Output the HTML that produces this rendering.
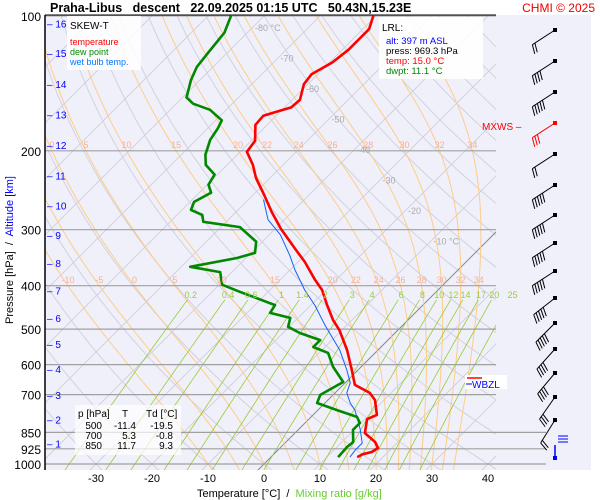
<!DOCTYPE html>
<html><head><meta charset="utf-8">
<style>
html,body{margin:0;padding:0;background:#fff;}
svg{display:block;font-family:"Liberation Sans",sans-serif;}
</style></head>
<body>
<svg id="chart" width="600" height="500" viewBox="0 0 600 500" xmlns="http://www.w3.org/2000/svg">
<defs><clipPath id="plotclip"><rect x="45" y="15" width="451" height="455"/></clipPath></defs>
<rect x="45" y="15" width="546" height="455" fill="#f0f0fb"/>
<g id="bg" clip-path="url(#plotclip)"></g>
<g id="plines"></g>
<g id="series"></g>
<g id="labels"></g>
<line x1="45" y1="15" x2="45" y2="470" stroke="#000" stroke-width="1.5"/>
<line x1="45" y1="15" x2="496" y2="15" stroke="#000" stroke-width="1"/>
<text x="50" y="12" font-size="12.5" font-weight="bold" fill="#000" xml:space="preserve">Praha-Libus   descent   22.09.2025 01:15 UTC   50.43N,15.23E</text>
<text x="595" y="12" font-size="12" fill="#e00" text-anchor="end">CHMI © 2025</text>
<g>
<rect x="67" y="16" width="74" height="54" fill="#fff" opacity="0.85"/>
<text x="70" y="29" font-size="10" fill="#000">SKEW-T</text>
<text x="70" y="45" font-size="9" fill="#f00">temperature</text>
<text x="70" y="55" font-size="9" fill="#080">dew point</text>
<text x="70" y="65" font-size="9" fill="#07f">wet bulb temp.</text>
</g>
<g>
<rect x="379" y="17" width="104" height="62" fill="#fff" opacity="0.9"/>
<text x="382" y="31" font-size="10" fill="#000">LRL:</text>
<text x="386" y="44" font-size="9.5" fill="#00f">alt: 397 m ASL</text>
<text x="386" y="54" font-size="9.5" fill="#000">press: 969.3 hPa</text>
<text x="386" y="64" font-size="9.5" fill="#f00">temp: 15.0 °C</text>
<text x="386" y="74" font-size="9.5" fill="#080">dwpt: 11.1 °C</text>
</g>
<g font-size="10" fill="#000">
<rect x="75" y="405" width="106" height="50" fill="#fff" opacity="0.7"/>
<text x="78" y="417">p [hPa]</text><text x="122" y="417">T</text><text x="146" y="417">Td [°C]</text>
<text x="102" y="429" text-anchor="end">500</text><text x="136" y="429" text-anchor="end">-11.4</text><text x="173" y="429" text-anchor="end">-19.5</text>
<text x="102" y="439" text-anchor="end">700</text><text x="136" y="439" text-anchor="end">5.3</text><text x="173" y="439" text-anchor="end">-0.8</text>
<text x="102" y="449" text-anchor="end">850</text><text x="136" y="449" text-anchor="end">11.7</text><text x="173" y="449" text-anchor="end">9.3</text>
</g>
<text x="197" y="497" font-size="11" xml:space="preserve"><tspan fill="#000">Temperature [°C]  /  </tspan><tspan fill="#6c3">Mixing ratio [g/kg]</tspan></text>
<text transform="translate(13,250) rotate(-90)" font-size="11" text-anchor="middle" xml:space="preserve"><tspan fill="#000">Pressure [hPa]  /  </tspan><tspan fill="#00f">Altitude [km]</tspan></text>
<g>
<rect x="465" y="375" width="42" height="14" fill="#fff"/>
<line x1="467" y1="378" x2="482" y2="378" stroke="#f00" stroke-width="1.5"/>
<line x1="466" y1="384" x2="472" y2="384" stroke="#00f"/>
<text x="472" y="388" font-size="10" fill="#00f">WBZL</text>
</g>
<text x="482" y="130" font-size="10" fill="#f00">MXWS –</text>
<g id="winds"></g>
</svg>
<script>
// ---- data ----
const tempP = [100,107,112,119,127,135,142,154,160,164,167,175,190,201,215,230,251,274,299,333,354,388,409,442,477,502,557,617,666,694,720,777,794,853,893,921,940,951,965];
const tempT = [-60.5,-58.9,-58.9,-58.9,-59.5,-61.1,-60.7,-58.6,-58.8,-60.9,-62.3,-62.1,-59.3,-58.8,-55.4,-52.5,-48.0,-43.6,-38.9,-32.5,-28.8,-23.8,-20.7,-17.1,-13.4,-10.5,-5.5,-1.1,2.1,6.2,8.4,11.4,10.4,12.5,15.9,17.5,17.1,15.9,15.4];
const dewP = [100,109,121,130,139,152,157,162,171,178,189,204,215,226,238,248,260,271,278,288,296,319,338,347,363,373,398,413,442,460,472,494,510,529,548,565,607,656,701,731,758,785,810,839,893,916,965];
const dewT = [-85.9,-84.1,-83.4,-82.9,-81.6,-79.3,-77.0,-72.9,-68.9,-68.2,-67.5,-65.7,-63.8,-60.5,-59.8,-57.9,-59.3,-58.4,-55.5,-54.1,-46.6,-41.1,-39.3,-41.6,-48.4,-42.1,-39.5,-35.0,-26.4,-25.9,-21.4,-20.2,-17.0,-12.1,-12.1,-8.4,-5.0,-0.5,-2.3,-1.4,3.4,8.2,9.8,9.8,12.0,11.8,12.0];
const wbP = [257,285,308,342,369,409,442,490,557,617,659,694,731,758,798,839,898,930,965];
const wbT = [-47.3,-42.9,-38.0,-32.7,-29.1,-23.8,-19.3,-13.9,-6.8,-2.0,0.9,2.1,4.5,6.6,8.9,11.1,13.8,13.8,14.1];
const pressureTicks = [100,200,300,400,500,600,700,850,925,1000];
const altKm = [1,2,3,4,5,6,7,8,9,10,11,12,13,14,15,16];
const altP = [900,796,701,614,540,472,410,356,308,265,227,194,166,142,121,104];
const tempTicks = [-30,-20,-10,0,10,20,30,40];
const isoLabels = [-80,-70,-60,-50,-40,-30,-20,-10];
const moistThetas = [-10,-5,0,5,10,15,20,22,24,26,28,30,32,34];
const mixRatios = [0.2,0.4,0.6,1,1.4,2,3,4,6,8,10,12,14,17,20,25];
const windY = [30,61,92,123,154,185,215,243,271,298,323,349,373,397,420];
const windFeathers = [2,4,5,3,2,5,5,5,5,5,5,4,4,3,2];
const windAng = [33,33,33,33,33,33,33,33,33,38,45,48,50,55,58];

// ---- axes ----
const NS="http://www.w3.org/2000/svg";
function yP(p){return 464-194.6*Math.log(1000/p);}
function xT(T,p){return 264+5.6*T+(464-yP(p));}
function mk(tag,attrs,parent){const e=document.createElementNS(NS,tag);for(const k in attrs)e.setAttribute(k,attrs[k]);parent.appendChild(e);return e;}
const bg=document.getElementById('bg'), pl=document.getElementById('plines'), se=document.getElementById('series'), lb=document.getElementById('labels');
function path(pts){return pts.map((q,i)=>(i?'L':'M')+q[0].toFixed(1)+','+q[1].toFixed(1)).join('');}

for(let th=-40;th<=220;th+=10){const pts=[];for(let p=1050;p>=90;p-=10){const T=(th+273.15)*Math.pow(p/1000,0.286)-273.15;pts.push([xT(T,p),yP(p)]);}
 const e=mk('path',{d:path(pts),fill:'none',stroke:'#d2d2dc','stroke-width':1},bg);
 
 }
for(let T=-150;T<=50;T+=10){const e=mk('line',{x1:xT(T,1050),y1:yP(1050),x2:xT(T,90),y2:yP(90),stroke:T===0?'#888':'#d2d2dc','stroke-width':1},bg);
 
 }
function es(Tc){return 6.112*Math.exp(17.67*Tc/(Tc+243.5));}
function moist(T0){const pts=[];const Rd=287,Cp=1005,L=2.5e6,eps=0.622;
 const f=(T,p)=>{const e=es(T-273.15);const r=eps*e/(p-e);return (Rd*T+L*r)/(Cp+L*L*r*eps/(Rd*T*T))/p;};
 let Tb=T0+273.15;for(let p=1000;p<1050;p+=5){Tb+=f(Tb,p)*5;}
 let t2=Tb;for(let p=1050;p>=100;p-=5){pts.push([xT(t2-273.15,p),yP(p)]);t2-=f(t2,p)*5;}
 return pts;}
const mLab200={}, mLab400={};
moistThetas.forEach(th=>{const pts=moist(th);
 const e=mk('path',{d:path(pts),fill:'none',stroke:'#ffcc88','stroke-width':1},bg);
 
 
 pts.forEach(q=>{if(Math.abs(q[1]-yP(200))<1.5)mLab200[th]=q[0];if(Math.abs(q[1]-yP(400))<1.5)mLab400[th]=q[0];});});
function tdw(w,p){const e=w*p/(622+w);const l=Math.log(e/6.112);return 243.5*l/(17.67-l);}
mixRatios.forEach(w=>{const pts=[];for(let p=1050;p>=430;p-=10)pts.push([xT(tdw(w,p),p),yP(p)]);
 const e=mk('path',{d:path(pts),fill:'none',stroke:'#99cc33','stroke-width':0.8},bg);
 
 
 const t=mk('text',{x:xT(tdw(w,420),420),y:298,'font-size':9,fill:'#99cc44','text-anchor':'middle'},lb);t.textContent=w;
 
 });
moistThetas.forEach(th=>{
 if(th>=0&&mLab200[th]!==undefined&&mLab200[th]>45){const t=mk('text',{x:mLab200[th],y:148,'font-size':9,fill:'#f8b090','text-anchor':'middle'},lb);t.textContent=th;
  
  }
 if(mLab400[th]!==undefined&&mLab400[th]>45){const t=mk('text',{x:mLab400[th],y:283,'font-size':9,fill:'#f8b090','text-anchor':'middle'},lb);t.textContent=th;
  
  }});
isoLabels.forEach((T,i)=>{const y=27+i*30.5;const p=1000*Math.exp(-(464-y)/194.6);
 const t=mk('text',{x:xT(T,p)+2,y:y+4,'font-size':9,fill:'#aaa'},lb);t.textContent=(T===-80||T===-10)?T+' °C':T;
 
 });
pressureTicks.forEach(p=>{const y=yP(p);const x2=p>=850?546:496;
 const l=mk('line',{x1:45,y1:y,x2:x2,y2:y,stroke:'#a0a0a0','stroke-width':1.2},pl);
 
 
 const t=mk('text',{x:41,y:y+5,'font-size':12,fill:'#000','text-anchor':'end'},lb);t.textContent=p;
 
 });
altKm.forEach((k,i)=>{const y=yP(altP[i]);
 const t=mk('text',{x:47,y:y+4,'font-size':10,fill:'#00f'},lb);t.textContent='– '+k;
 
 });
tempTicks.forEach(T=>{const t=mk('text',{x:xT(T,1000),y:482,'font-size':11,fill:'#000','text-anchor':'middle'},lb);t.textContent=T;
 
 });
function series(P,T,color,w,name){const pts=P.map((p,i)=>[xT(T[i],p),yP(p)]);
 const e=mk('path',{d:path(pts),fill:'none',stroke:color,'stroke-width':w,'stroke-linejoin':'round'},se);
 
 }
series(wbP,wbT,'#1060ff',1,'wet-bulb-line');
series(dewP,dewT,'#008800',2.6,'dew-point-line');
series(tempP,tempT,'#f00',2.6,'temperature-line');
const wg=document.getElementById('winds');
windY.forEach((y,i)=>{const a=windAng[i]*Math.PI/180;const L=27;const x0=555,y0=y;
 const x1=x0-L*Math.cos(a), y1=y0+L*Math.sin(a);const col=i===3?'#f00':'#000';
 const g=mk('g',{},wg);
 
 
 mk('line',{x1:x0,y1:y0,x2:x1,y2:y1,stroke:col,'stroke-width':1},g);
 mk('rect',{x:x0-2,y:y0-2,width:4,height:4,fill:col},g);
 const ux=Math.cos(a), uy=-Math.sin(a);
 for(let f=0;f<windFeathers[i];f++){const bx=x1+ux*f*3, by=y1+uy*f*3;
  mk('line',{x1:bx,y1:by,x2:bx-uy*9-ux*3,y2:by+ux*9-uy*3,stroke:col,'stroke-width':1},g);}
});
const sfc=mk('g',{},wg);


mk('line',{x1:555,y1:445,x2:555,y2:458,stroke:'#00f','stroke-width':1.5},sfc);
mk('rect',{x:553,y:456,width:4,height:4,fill:'#00f'},sfc);
mk('path',{d:'M558,436h10M558,439h10M558,442h10',stroke:'#00f',fill:'none'},sfc);
</script>
</body></html>
